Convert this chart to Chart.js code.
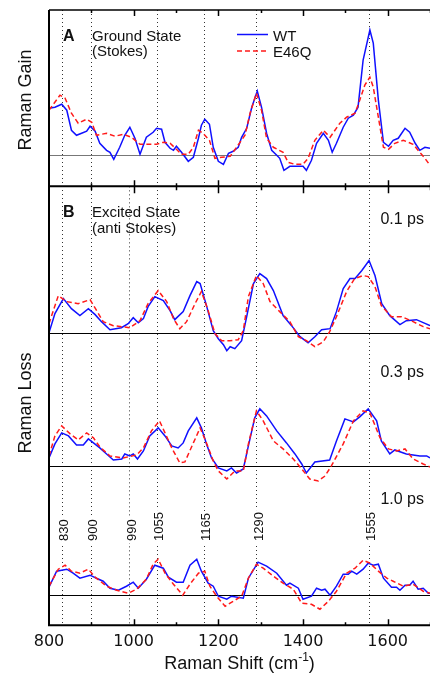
<!DOCTYPE html>
<html>
<head>
<meta charset="utf-8">
<script src="https://cdn.jsdelivr.net/npm/chart.js@4/dist/chart.umd.min.js"></script>
<style>
  html, body { margin: 0; padding: 0; background: #fff; }
</style>
</head>
<body>
<canvas id="raman" width="430" height="675"></canvas>
<script>
// Raman shift (cm-1) / signal pairs, one array per trace
const groundWT = [[800,47],[814,48],[830,51],[842,45],[853,25],[865,20],[877,22],[889,24],[897,29],[909,24],[920,12],[936,5],[944,3],[953,-4],[967,8],[979,20],[991,28],[1003,17],[1015,1],[1030,18],[1046,23],[1054,27],[1066,26],[1074,13],[1086,7],[1094,5],[1101,9],[1113,3],[1129,-6],[1141,-2],[1153,17],[1160,30],[1168,36],[1179,31],[1188,8],[1200,-6],[1212,-9],[1224,2],[1235,4],[1247,8],[1255,18],[1267,27],[1279,48],[1292,64],[1302,48],[1314,22],[1326,5],[1338,0],[1345,-3],[1355,-15],[1369,-11],[1385,-11],[1400,-11],[1408,-15],[1420,-5],[1432,12],[1448,22],[1460,15],[1469,3],[1479,12],[1495,28],[1507,37],[1519,40],[1530,48],[1542,95],[1558,125],[1566,112],[1578,55],[1590,13],[1602,9],[1613,15],[1625,17],[1641,27],[1652,23],[1665,12],[1676,5],[1688,8],[1700,7]];
const groundE46Q = [[800,45],[826,60],[838,57],[853,42],[869,32],[889,36],[901,33],[912,20],[936,22],[956,19],[975,21],[995,18],[1015,11],[1030,11],[1054,11],[1070,13],[1086,12],[1101,6],[1113,1],[1129,1],[1141,8],[1153,25],[1164,22],[1179,15],[1192,-3],[1208,-2],[1228,-1],[1243,8],[1263,20],[1275,42],[1290,62],[1302,45],[1314,17],[1330,8],[1353,3],[1365,-7],[1381,-9],[1400,-9],[1412,-3],[1428,15],[1448,25],[1464,18],[1487,32],[1503,38],[1523,42],[1534,55],[1546,70],[1558,78],[1566,68],[1578,38],[1590,8],[1602,6],[1617,12],[1637,15],[1660,11],[1676,3],[1688,-3],[1700,-10]];

const ex01WT = [[800,0],[814,19],[834,34],[853,24],[873,17],[893,24],[909,18],[924,11],[944,3],[971,5],[987,9],[999,15],[1011,10],[1023,14],[1034,26],[1050,36],[1070,32],[1086,22],[1097,13],[1117,21],[1133,37],[1149,51],[1157,49],[1172,27],[1188,2],[1200,-6],[1212,-12],[1220,-18],[1228,-14],[1239,-16],[1255,-8],[1267,16],[1283,49],[1298,59],[1314,54],[1330,42],[1353,17],[1373,7],[1393,-4],[1412,-10],[1428,-4],[1444,3],[1464,4],[1479,21],[1495,44],[1511,54],[1523,54],[1539,62],[1556,72],[1570,57],[1586,29],[1605,17],[1629,8],[1644,12],[1668,13],[1684,10],[1700,7]];
const ex01E46Q = [[800,9],[822,37],[842,31],[869,29],[897,33],[928,11],[952,7],[991,5],[1015,12],[1034,29],[1058,42],[1078,31],[1094,14],[1109,4],[1125,11],[1145,29],[1160,41],[1176,22],[1192,-1],[1208,-8],[1227,-8],[1247,-7],[1259,2],[1271,36],[1290,57],[1306,49],[1322,31],[1345,21],[1369,11],[1389,-4],[1408,-8],[1428,-14],[1448,-9],[1463,1],[1479,16],[1503,41],[1522,54],[1542,57],[1554,56],[1570,46],[1585,27],[1609,16],[1633,16],[1660,11],[1684,6],[1700,4]];

const ex03WT = [[800,8],[814,22],[830,33],[846,30],[865,21],[881,21],[893,27],[905,23],[920,18],[936,12],[952,6],[972,7],[979,12],[991,10],[999,12],[1009,7],[1023,15],[1038,30],[1058,38],[1074,30],[1090,20],[1105,18],[1117,23],[1129,35],[1149,48],[1160,38],[1172,22],[1184,8],[1200,-2],[1220,-5],[1231,-2],[1243,-7],[1259,-3],[1271,20],[1286,48],[1298,57],[1314,50],[1338,35],[1361,23],[1381,12],[1397,2],[1408,-7],[1428,4],[1463,6],[1479,25],[1499,47],[1519,44],[1534,49],[1554,57],[1574,45],[1585,25],[1605,12],[1617,16],[1644,12],[1676,10],[1692,10],[1700,8]];
const ex03E46Q = [[800,10],[814,30],[830,40],[850,32],[869,26],[889,33],[905,28],[920,19],[944,10],[975,8],[1007,11],[1023,18],[1042,35],[1061,45],[1074,33],[1090,18],[1109,3],[1121,4],[1141,23],[1157,38],[1172,23],[1188,5],[1200,-5],[1220,-13],[1239,-5],[1259,-5],[1271,22],[1290,55],[1306,45],[1330,25],[1353,17],[1377,7],[1397,-3],[1416,-13],[1436,-15],[1452,-10],[1467,0],[1495,22],[1519,45],[1542,55],[1558,53],[1582,28],[1602,17],[1621,15],[1641,17],[1660,7],[1684,2],[1700,-1]];

const ex10WT = [[800,8],[818,24],[842,26],[857,22],[873,17],[897,20],[912,17],[928,14],[944,7],[964,5],[983,9],[999,13],[1011,7],[1030,16],[1050,30],[1070,27],[1082,18],[1101,13],[1117,13],[1133,30],[1149,36],[1160,24],[1176,12],[1188,9],[1200,-1],[1220,-4],[1231,-1],[1259,-3],[1271,17],[1294,33],[1314,29],[1338,22],[1361,10],[1369,12],[1389,7],[1400,-4],[1420,-1],[1432,7],[1444,5],[1452,6],[1464,0],[1479,9],[1495,21],[1507,21],[1515,24],[1527,21],[1542,26],[1554,32],[1566,30],[1578,31],[1590,17],[1609,8],[1621,8],[1629,5],[1641,10],[1652,10],[1660,14],[1672,6],[1684,7],[1696,2],[1700,2]];
const ex10E46Q = [[800,9],[822,26],[838,30],[853,24],[873,22],[893,26],[909,18],[936,9],[960,5],[987,2],[1007,6],[1030,16],[1046,31],[1058,36],[1074,22],[1094,11],[1116,0],[1133,11],[1153,22],[1168,24],[1180,9],[1196,-1],[1216,-11],[1235,-6],[1255,-1],[1271,17],[1290,31],[1306,27],[1330,19],[1353,12],[1377,6],[1397,-8],[1420,-9],[1440,-14],[1460,-6],[1479,4],[1503,22],[1523,27],[1542,35],[1558,32],[1578,24],[1598,17],[1613,14],[1637,9],[1660,11],[1684,4],[1700,2]];

// marked bands (cm-1); 990 is only marked for the excited state
const bandPositions = [830, 900, 990, 1055, 1165, 1290, 1555];
const groundBands = [830, 900, 1055, 1165, 1290, 1555];

// pump-probe delays and the vertical offset of each excited-state trace
const delayLabels = ['0.1 ps', '0.3 ps', '1.0 ps'];
const delayOffsets = [262, 129, 0];

const FONT = "'Liberation Sans', Arial, Helvetica, sans-serif";
const BLUE = '#1010ff';
const RED = '#ff1a1a';

const toXY = (pairs, off) => pairs.map(([x, y]) => ({x: x, y: y + off}));

const wtLine = {borderColor: BLUE, borderWidth: 1.5, pointRadius: 0, tension: 0, fill: false, order: 1};
const mutLine = {borderColor: RED, borderWidth: 1.5, borderDash: [5, 3], pointRadius: 0, tension: 0, fill: false, order: 0};

const excited = [[ex01WT, ex01E46Q], [ex03WT, ex03E46Q], [ex10WT, ex10E46Q]];

const datasets = [
  Object.assign({label: 'WT', yAxisID: 'yA', data: toXY(groundWT, 0)}, wtLine),
  Object.assign({label: 'E46Q', yAxisID: 'yA', data: toXY(groundE46Q, 0)}, mutLine)
];
excited.forEach(([wt, mut], i) => {
  datasets.push(Object.assign({label: 'WT ' + delayLabels[i], yAxisID: 'yB', data: toXY(wt, delayOffsets[i])}, wtLine));
  datasets.push(Object.assign({label: 'E46Q ' + delayLabels[i], yAxisID: 'yB', data: toXY(mut, delayOffsets[i])}, mutLine));
});

// frame, ticks, band markers and annotations
const decorations = {
  id: 'decorations',
  beforeDatasetsDraw(chart) {
    const {ctx, chartArea: area, scales: {x, yA, yB}} = chart;
    ctx.save();
    ctx.lineWidth = 1;
    ctx.strokeStyle = '#333';
    ctx.setLineDash([1, 3]);
    bandPositions.forEach(b => {
      const px = Math.round(x.getPixelForValue(b)) + 0.5;
      ctx.beginPath();
      ctx.moveTo(px, groundBands.includes(b) ? yA.top : yB.top);
      ctx.lineTo(px, yB.bottom);
      ctx.stroke();
    });
    ctx.setLineDash([]);

    // baselines
    let py = Math.round(yA.getPixelForValue(0)) + 0.5;
    ctx.strokeStyle = '#777';
    ctx.beginPath(); ctx.moveTo(area.left, py); ctx.lineTo(area.right, py); ctx.stroke();
    ctx.strokeStyle = '#000';
    delayOffsets.forEach(off => {
      py = Math.round(yB.getPixelForValue(off)) + 0.5;
      ctx.beginPath(); ctx.moveTo(area.left, py); ctx.lineTo(area.right, py); ctx.stroke();
    });

    // band labels with a white backing
    ctx.font = '13px ' + FONT;
    ctx.textAlign = 'left';
    ctx.textBaseline = 'middle';
    bandPositions.forEach(b => {
      const px = x.getPixelForValue(b) + 2;
      const w = ctx.measureText(String(b)).width;
      ctx.save();
      ctx.translate(px, 541);
      ctx.rotate(-Math.PI / 2);
      ctx.fillStyle = '#fff';
      ctx.fillRect(-2, -6, w + 4, 12);
      ctx.fillStyle = '#111';
      ctx.fillText(String(b), 0, 0.5);
      ctx.restore();
    });
    ctx.restore();
  },
  afterDatasetsDraw(chart) {
    const {ctx, chartArea: area, scales: {x, yA, yB}} = chart;
    ctx.save();
    ctx.strokeStyle = '#000';

    // frame
    ctx.lineWidth = 2;
    ctx.beginPath();
    ctx.moveTo(area.left, area.top); ctx.lineTo(area.left, area.bottom); ctx.lineTo(area.right, area.bottom);
    ctx.moveTo(area.left, yA.bottom); ctx.lineTo(area.right, yA.bottom);
    ctx.stroke();
    ctx.lineWidth = 1.5;
    ctx.beginPath(); ctx.moveTo(area.left, area.top); ctx.lineTo(area.right, area.top); ctx.stroke();

    // ticks every 100 cm-1, longer every 200
    for (let v = 900; v <= 1700; v += 100) {
      const px = Math.round(x.getPixelForValue(v)) + 0.5;
      const len = v % 200 === 0 ? 6 : 3;
      ctx.beginPath();
      ctx.moveTo(px, area.top); ctx.lineTo(px, area.top + len);
      ctx.moveTo(px, yA.bottom - len); ctx.lineTo(px, yA.bottom + len + 1);
      ctx.moveTo(px, area.bottom); ctx.lineTo(px, area.bottom - len);
      ctx.stroke();
    }

    ctx.fillStyle = '#111';
    ctx.textAlign = 'left';
    ctx.textBaseline = 'alphabetic';

    // panel tags and titles
    ctx.font = 'bold 16px ' + FONT;
    ctx.fillText('A', 63, 41);
    ctx.fillText('B', 63, 217);
    ctx.font = '15px ' + FONT;
    ctx.fillText('Ground State', 92, 40.5);
    ctx.fillText('(Stokes)', 92, 55.5);
    ctx.fillText('Excited State', 92, 217);
    ctx.fillText('(anti Stokes)', 92, 232.5);

    // legend
    ctx.lineWidth = 1.5;
    ctx.strokeStyle = BLUE;
    ctx.beginPath(); ctx.moveTo(237, 34.5); ctx.lineTo(268, 34.5); ctx.stroke();
    ctx.strokeStyle = RED;
    ctx.setLineDash([5, 3]);
    ctx.beginPath(); ctx.moveTo(237, 51); ctx.lineTo(268, 51); ctx.stroke();
    ctx.setLineDash([]);
    ctx.fillText('WT', 273, 40.5);
    ctx.fillText('E46Q', 273, 57);

    // delay labels
    ctx.font = '16px ' + FONT;
    ctx.textAlign = 'right';
    [224, 377, 503.5].forEach((y, i) => ctx.fillText(delayLabels[i], 424, y));

    // axis titles
    ctx.font = '18px ' + FONT;
    ctx.textAlign = 'center';
    [['Raman Gain', 100], ['Raman Loss', 403]].forEach(([t, cy]) => {
      ctx.save();
      ctx.translate(31, cy);
      ctx.rotate(-Math.PI / 2);
      ctx.fillText(t, 0, 0);
      ctx.restore();
    });

    ctx.textAlign = 'left';
    const main = 'Raman Shift (cm', sup = '-1', tail = ')';
    ctx.font = '18px ' + FONT;
    const wMain = ctx.measureText(main).width, wTail = ctx.measureText(tail).width;
    ctx.font = '12px ' + FONT;
    const wSup = ctx.measureText(sup).width;
    let tx = (area.left + area.right) / 2 - (wMain + wSup + wTail) / 2;
    ctx.font = '18px ' + FONT;
    ctx.fillText(main, tx, 669);
    ctx.font = '12px ' + FONT;
    ctx.fillText(sup, tx + wMain, 661);
    ctx.font = '18px ' + FONT;
    ctx.fillText(tail, tx + wMain + wSup, 669);
    ctx.restore();
  }
};

const hiddenY = {
  type: 'linear',
  position: 'left',
  stack: 'panels',
  grid: {display: false, drawTicks: false},
  border: {display: false},
  ticks: {display: false}
};

new Chart(document.getElementById('raman'), {
  type: 'line',
  data: {datasets: datasets},
  options: {
    responsive: false,
    animation: false,
    layout: {padding: {left: 49, right: 0, top: 10, bottom: 16.5}},
    plugins: {legend: {display: false}, tooltip: {enabled: false}},
    scales: {
      x: {
        type: 'linear', min: 800, max: 1700,
        grid: {display: false, drawTicks: false},
        border: {display: false},
        ticks: {stepSize: 200, includeBounds: false, padding: 7, color: '#111', font: {size: 16, family: "'DejaVu Sans', sans-serif"}, callback: v => String(v)}
      },
      yA: Object.assign({}, hiddenY, {min: -31, max: 145, stackWeight: 176, weight: 2}),
      yB: Object.assign({}, hiddenY, {min: -30, max: 408, stackWeight: 438, weight: 1})
    }
  },
  plugins: [decorations]
});
</script>
</body>
</html>
